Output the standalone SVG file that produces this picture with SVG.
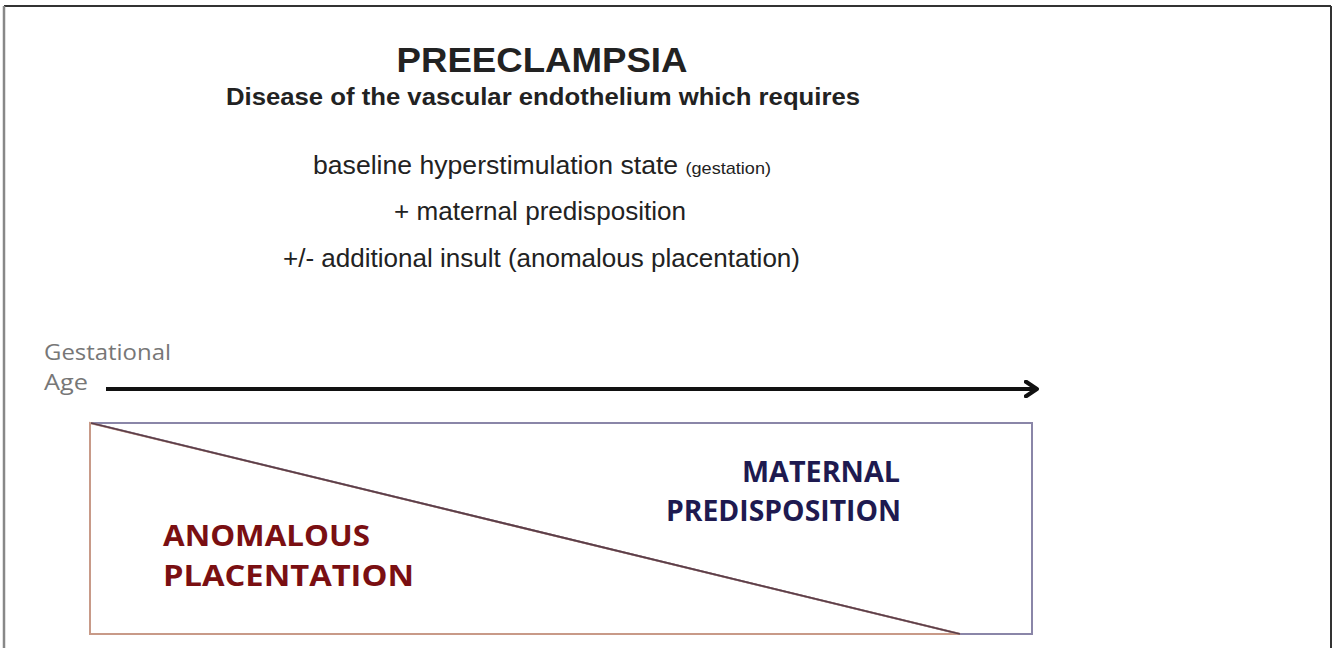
<svg xmlns="http://www.w3.org/2000/svg" width="1334" height="648" viewBox="0 0 1334 648">
<style>
.h{font-family:"Liberation Sans",Arial,sans-serif;text-anchor:middle;fill:#222}
.t{font-family:"Liberation Sans",Arial,sans-serif;fill:#222;font-size:25px}
.ax{font-family:"Open Sans","DejaVu Sans",sans-serif;font-size:22px;fill:#777}
.lab{font-family:"Open Sans","DejaVu Sans",sans-serif;font-weight:bold;font-size:28px}
</style>
<defs>
<marker id="ah" viewBox="0 0 10 10" refX="6" refY="5" markerWidth="4.5" markerHeight="4.5" orient="auto" markerUnits="strokeWidth">
<path d="M1,1 L7,5 L1,9" fill="none" stroke="#111" stroke-width="2.4" stroke-linecap="round" stroke-linejoin="round"/>
</marker>
</defs>
<rect width="1334" height="648" fill="#fff"/>
<g id="frame" fill="none">
<line x1="4" y1="6" x2="1331" y2="6" stroke="#333" stroke-width="2"/>
<line x1="4" y1="6" x2="4" y2="648" stroke="#888" stroke-width="2.5"/>
<line x1="1331" y1="6" x2="1331" y2="648" stroke="#333" stroke-width="2"/>
</g>
<g id="title">
<text class="h" x="542" y="72" font-size="35" font-weight="bold" fill="#333" textLength="291" lengthAdjust="spacingAndGlyphs">PREECLAMPSIA</text>
<text class="h" x="543" y="105" font-size="23" font-weight="bold" fill="#111" textLength="634" lengthAdjust="spacingAndGlyphs">Disease of the vascular endothelium which requires</text>
<text class="t" x="313" y="174" textLength="458" lengthAdjust="spacingAndGlyphs">baseline hyperstimulation state <tspan font-size="17">(gestation)</tspan></text>
<text class="t" x="394" y="220" textLength="292" lengthAdjust="spacingAndGlyphs">+ maternal predisposition</text>
<text class="t" x="283" y="267" textLength="517" lengthAdjust="spacingAndGlyphs">+/- additional insult (anomalous placentation)</text>
</g>
<g id="axis">
<text class="ax" x="44" y="360" textLength="127" lengthAdjust="spacingAndGlyphs">Gestational</text>
<text class="ax" x="44" y="390" textLength="44" lengthAdjust="spacingAndGlyphs">Age</text>
</g>
<g id="connectors">
<line x1="106" y1="389" x2="1035" y2="389" stroke="#111" stroke-width="4" marker-end="url(#ah)"/>
</g>
<g id="maternal">
<polygon points="91,423 1032,423 1032,634 960,634" fill="#fff" stroke="#8a86a8" stroke-width="2"/>
<text class="lab" x="742" y="482" fill="#1e1a50" textLength="158" lengthAdjust="spacingAndGlyphs">MATERNAL</text>
<text class="lab" x="666" y="521" fill="#1e1a50" textLength="235" lengthAdjust="spacingAndGlyphs">PREDISPOSITION</text>
</g>
<g id="anomalous">
<polygon points="90,423 960,634 90,634" fill="none" stroke="#c89a88" stroke-width="2"/>
<line x1="91" y1="423" x2="960" y2="634" stroke="#5a3e4a" stroke-width="1.8"/>
<text class="lab" x="163" y="546" fill="#7a0f12" textLength="207" lengthAdjust="spacingAndGlyphs">ANOMALOUS</text>
<text class="lab" x="163" y="586" fill="#7a0f12" textLength="251" lengthAdjust="spacingAndGlyphs">PLACENTATION</text>
</g>
</svg>
